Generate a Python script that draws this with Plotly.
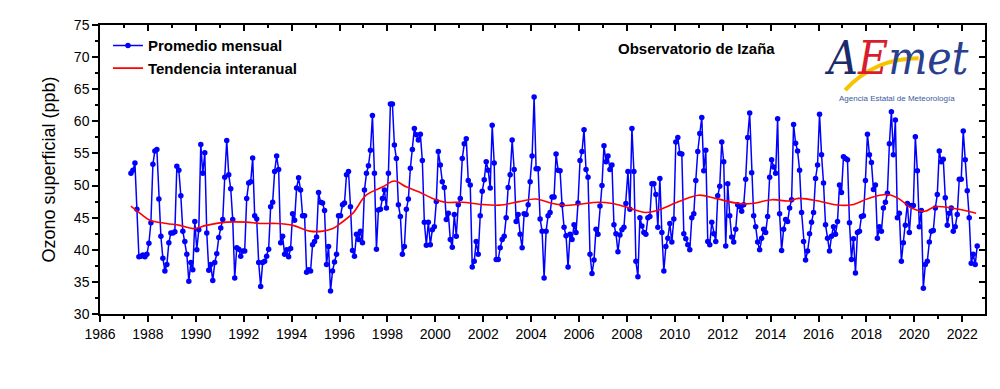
import plotly.graph_objects as go

# ---------------- data ----------------
start_year = 1987
start_month = 4  # first monthly mean: April 1987

ozone_monthly = [
    # 1987 (Apr-Dec)
    51.9, 52.4, 53.5, 46.3, 38.9, 39.0, 39.2, 38.9, 39.3,
    # 1988
    41.0, 44.2, 53.3, 55.4, 55.6, 47.9, 42.1, 38.7, 36.7, 37.7, 41.1, 42.6,
    # 1989
    42.6, 42.8, 53.0, 52.4, 48.4, 42.9, 41.3, 39.3, 35.1, 38.0, 36.9, 44.4,
    # 1990
    40.0, 43.1, 56.4, 51.9, 55.1, 42.6, 36.8, 37.7, 35.2, 38.0, 39.4, 41.9,
    # 1991
    43.4, 44.7, 51.3, 57.0, 51.7, 49.5, 44.7, 35.6, 40.3, 40.1, 39.0, 39.8,
    # 1992
    39.8, 48.0, 50.4, 50.6, 54.3, 45.3, 44.8, 38.0, 34.3, 38.0, 38.2, 39.0,
    # 1993
    40.1, 46.7, 47.4, 52.2, 54.6, 52.5, 41.1, 42.1, 39.3, 40.0, 38.9, 40.2,
    # 1994
    45.6, 44.6, 49.6, 51.2, 49.3, 45.3, 45.3, 36.5, 36.9, 36.7, 40.8, 41.3,
    # 1995
    42.0, 48.9, 47.4, 47.3, 46.1, 37.7, 40.5, 33.6, 36.7, 38.1, 39.3, 45.3,
    # 1996
    45.3, 47.0, 47.3, 51.7, 52.2, 46.7, 39.9, 39.0, 42.4, 41.6, 42.9, 41.1,
    # 1997
    49.3, 51.9, 53.1, 55.5, 60.9, 51.9, 40.1, 46.2, 46.3, 48.0, 49.3, 46.5,
    # 1998
    51.9, 62.7, 62.7, 56.3, 54.2, 47.0, 45.2, 39.3, 40.5, 46.3, 47.9, 52.7,
    # 1999
    55.6, 58.9, 57.9, 57.1, 58.0, 53.9, 44.3, 40.7, 44.3, 40.8, 43.1, 43.6,
    # 2000
    47.5, 55.3, 53.2, 50.6, 49.7, 44.7, 45.7, 41.6, 40.4, 45.5, 42.1, 47.0,
    # 2001
    48.0, 54.2, 56.5, 57.3, 50.8, 50.1, 37.3, 38.2, 41.3, 39.3, 45.3, 49.1,
    # 2002
    50.9, 53.7, 52.4, 49.6, 59.4, 53.5, 38.5, 38.5, 40.3, 41.6, 42.1, 45.0,
    # 2003
    49.7, 51.7, 57.1, 52.5, 44.4, 45.5, 42.4, 40.3, 45.6, 45.5, 47.0, 50.6,
    # 2004
    54.6, 63.8, 52.6, 52.6, 44.8, 42.9, 35.6, 42.9, 45.3, 45.8, 48.2, 48.2,
    # 2005
    54.9, 52.4, 52.3, 47.0, 43.5, 42.2, 37.3, 42.4, 41.6, 43.9, 42.7, 47.3,
    # 2006
    53.9, 55.3, 58.7, 52.5, 51.3, 39.3, 36.3, 38.4, 43.2, 42.4, 46.8, 50.0,
    # 2007
    56.2, 53.7, 54.6, 52.5, 53.2, 43.9, 42.5, 39.7, 42.3, 43.1, 43.5, 47.2,
    # 2008
    52.2, 46.3, 58.9, 52.2, 38.2, 35.8, 45.0, 43.7, 42.7, 42.4, 45.0, 45.2,
    # 2009
    50.3, 50.3, 48.6, 43.5, 51.1, 42.7, 36.7, 40.5, 41.8, 44.1, 41.2, 44.8,
    # 2010
    56.8, 57.5, 55.0, 54.9, 42.5, 41.7, 40.8, 40.0, 45.0, 45.6, 50.8, 55.3,
    # 2011
    58.1, 60.6, 52.3, 55.5, 41.3, 40.8, 44.3, 42.5, 41.3, 48.4, 49.9, 56.8,
    # 2012
    53.7, 40.6, 50.3, 45.3, 42.0, 41.2, 43.2, 47.0, 46.7, 46.0, 47.0, 51.0,
    # 2013
    57.5, 61.3, 52.0, 45.3, 43.6, 41.2, 40.0, 41.8, 43.2, 42.7, 45.2, 51.3,
    # 2014
    54.0, 52.9, 51.9, 60.4, 45.6, 39.9, 43.2, 44.7, 44.4, 46.5, 47.8, 59.5,
    # 2015
    56.6, 55.4, 52.4, 45.8, 41.3, 38.4, 39.8, 42.5, 44.3, 45.8, 51.1, 53.2,
    # 2016
    61.1, 54.8, 50.4, 43.9, 41.8, 39.8, 42.1, 43.6, 42.4, 44.4, 50.1, 48.9,
    # 2017
    54.5, 54.2, 54.0, 44.2, 38.5, 41.7, 36.4, 42.7, 42.9, 45.2, 45.3, 50.8,
    # 2018
    58.0, 54.8, 53.6, 49.4, 50.1, 41.8, 43.6, 42.9, 46.5, 47.4, 48.8, 56.5,
    # 2019
    61.5, 54.8, 60.2, 45.0, 45.7, 38.2, 41.1, 43.8, 47.2, 42.7, 46.9, 46.9,
    # 2020
    57.6, 52.3, 43.6, 46.1, 34.0, 37.7, 38.2, 41.2, 42.9, 43.0, 46.5, 48.6,
    # 2021
    55.4, 53.7, 54.1, 48.1, 43.8, 45.7, 46.5, 42.9, 43.6, 45.5, 51.0, 51.0,
    # 2022 (Jan-Aug)
    58.5, 54.0, 49.2, 45.0, 37.9, 39.3, 37.7, 40.6,
]

trend_years = [
    1987.29, 1987.7, 1988.08, 1988.78, 1989.33, 1989.89, 1990.44, 1991.28,
    1992.11, 1992.67, 1993.36, 1994.06, 1994.75, 1995.31, 1995.72, 1996.0,
    1996.56, 1997.11, 1997.81, 1998.29, 1998.78, 1999.33, 1999.89, 2000.44,
    2001.14, 2001.83, 2002.67, 2003.5, 2004.19, 2004.89, 2005.44, 2006.0,
    2006.83, 2007.39, 2007.94, 2008.78, 2009.33, 2010.17, 2011.0, 2011.69,
    2012.67, 2013.22, 2014.06, 2014.75, 2015.17, 2016.0, 2016.69, 2017.39,
    2018.08, 2018.85, 2019.33, 2019.89, 2020.44, 2020.86, 2021.56, 2022.58,
]
trend_values = [
    46.8, 45.6, 44.6, 44.1, 43.8, 43.3, 43.8, 44.3,
    44.3, 44.1, 44.1, 43.8, 42.9, 42.9, 43.3, 44.0,
    45.7, 48.5, 49.8, 50.7, 49.8, 49.0, 48.0, 47.4,
    47.4, 47.1, 46.95, 47.5, 47.9, 47.2, 46.9, 47.1,
    47.4, 47.2, 46.7, 45.8, 46.2, 47.5, 48.5, 48.0,
    47.2, 47.2, 47.8, 47.6, 48.0, 47.6, 47.0, 47.0,
    48.0, 48.6, 48.0, 46.5, 46.0, 46.7, 46.5, 45.7,
]

x_tick_years = list(range(1986, 2023, 2))
x_minor_years = list(range(1987, 2023, 2))
y_ticks = [30, 35, 40, 45, 50, 55, 60, 65, 70, 75]

x_range = [1986, 2022.95]
y_range = [30, 75]

# monthly positions (mid-month, decimal years)
x_monthly = [start_year + (start_month - 1 + i + 0.5) / 12 for i in range(len(ozone_monthly))]

FONT = "Liberation Sans"

fig = go.Figure()
fig.add_trace(go.Scatter(
    x=x_monthly, y=ozone_monthly, mode="lines+markers",
    name="<b>Promedio mensual</b>",
    line=dict(color="#0000ff", width=1.5),
    marker=dict(color="#0000ff", size=5.5),
))
fig.add_trace(go.Scatter(
    x=trend_years, y=trend_values, mode="lines",
    name="<b>Tendencia interanual</b>",
    line=dict(color="#ff0000", width=1.6, shape="spline", smoothing=1.0),
))
# helper trace so that top / right mirror axes (inward ticks) are drawn
fig.add_trace(go.Scatter(x=[None], y=[None], xaxis="x2", yaxis="y2",
                         showlegend=False, hoverinfo="skip"))

axis_common = dict(showline=True, linecolor="black", linewidth=1.5,
                   showgrid=False, zeroline=False, tickcolor="black",
                   tickwidth=1.5)

# page body has an 8px margin: figure size chosen so the page is 1000x389
fig.update_layout(
    width=984, height=373,
    paper_bgcolor="white", plot_bgcolor="white",
    margin=dict(l=92, r=7, t=17, b=67),
    font=dict(family=FONT, color="black"),
    xaxis=dict(range=x_range, tickmode="array", tickvals=x_tick_years,
               ticktext=[str(v) for v in x_tick_years],
               ticks="outside", ticklen=6,
               minor=dict(tickmode="array", tickvals=x_minor_years,
                          ticks="outside", ticklen=3, tickcolor="black"),
               tickfont=dict(size=14, family=FONT, color="black"),
               automargin=False, **axis_common),
    yaxis=dict(range=y_range, tickmode="array", tickvals=y_ticks,
               ticks="outside", ticklen=6,
               minor=dict(dtick=2.5, ticks="outside", ticklen=3, tickcolor="black"),
               tickfont=dict(size=14, family=FONT, color="black"),
               title=dict(text="Ozono superficial (ppb)",
                          font=dict(size=18, family=FONT, color="black"),
                          standoff=14),
               automargin=False, **axis_common),
    xaxis2=dict(range=x_range, overlaying="x", side="top", anchor="y",
                tickmode="array", tickvals=x_tick_years, ticks="inside",
                ticklen=6, showticklabels=False,
                minor=dict(tickmode="array", tickvals=x_minor_years,
                           ticks="inside", ticklen=3, tickcolor="black"),
                automargin=False, **axis_common),
    yaxis2=dict(range=y_range, overlaying="y", side="right", anchor="x",
                tickmode="array", tickvals=y_ticks, ticks="inside",
                ticklen=6, showticklabels=False,
                minor=dict(dtick=2.5, ticks="inside", ticklen=3, tickcolor="black"),
                automargin=False, **axis_common),
    legend=dict(x=0.009, y=0.985, xanchor="left", yanchor="top",
                bgcolor="rgba(0,0,0,0)", font=dict(size=15, family=FONT, color="black"),
                tracegroupgap=0, itemwidth=30),
    showlegend=True,
)

fig.add_annotation(text="<b>Observatorio de Izaña</b>", xref="paper", yref="paper",
                   x=0.674, y=0.92, xanchor="center", yanchor="middle", showarrow=False,
                   font=dict(size=15, family=FONT, color="black"))

# AEMET logo (approximated with text + a swoosh)
fig.add_shape(type="path", xref="paper", yref="paper",
              path="M 0.842,0.775 Q 0.875,0.885 0.925,0.885",
              line=dict(color="#f5c400", width=4))
fig.add_annotation(
    text="<i><span style='color:#1b2a6b'>A</span><span style='color:#d81e2c'>E</span>"
         "<span style='color:#2a3f8f'>met</span></i>",
    xref="paper", yref="paper", x=0.9, y=0.985, xanchor="center", yanchor="top",
    showarrow=False, font=dict(size=46, family="DejaVu Serif Condensed"))
fig.add_annotation(text="Agencia Estatal de Meteorología", xref="paper", yref="paper",
                   x=0.9, y=0.745, xanchor="center", yanchor="middle", showarrow=False,
                   font=dict(size=8, family="Liberation Sans", color="#3a5ba0"))

fig.write_html("out.html")
